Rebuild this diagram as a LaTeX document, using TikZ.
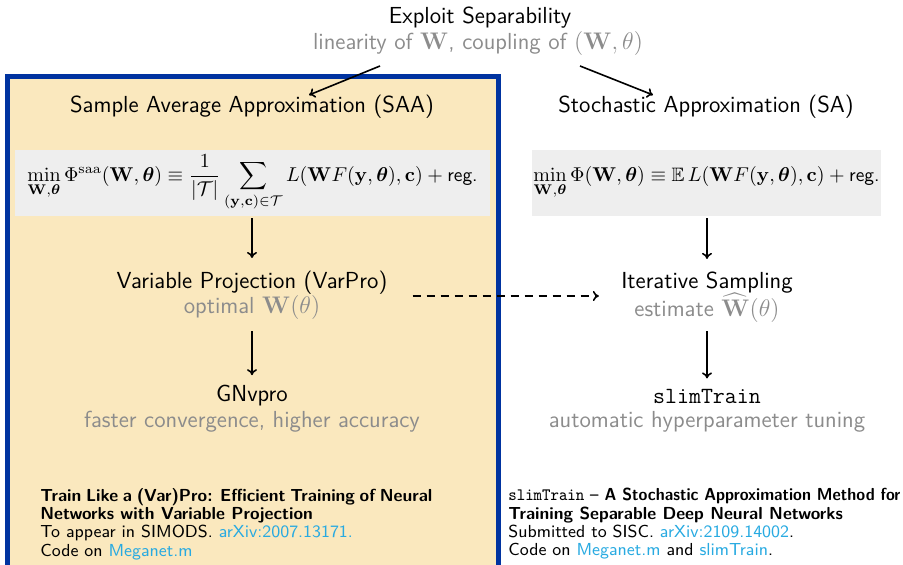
\documentclass[tikz,border=0pt]{standalone}
\usepackage{amsmath,amssymb,bm,graphicx}
\usetikzlibrary{arrows.meta,calc}
\definecolor{boxblue}{RGB}{0,51,160}
\definecolor{wheatbg}{RGB}{250,232,190}
\definecolor{eqgray}{RGB}{238,238,238}
\definecolor{subgray}{RGB}{140,140,140}
\definecolor{linkcyan}{RGB}{40,170,225}
\newcommand{\lnk}[1]{\textcolor{linkcyan}{#1}}
\tikzset{
  head/.style={font=\fontsize{11.6}{13}\selectfont\sffamily, inner sep=0pt},
  sub/.style={font=\fontsize{11.6}{13}\selectfont\sffamily, text=subgray, inner sep=0pt},
  eqbox/.style={fill=eqgray, inner sep=0pt, minimum height=33pt, font=\fontsize{9.7}{11}\selectfont},
  ref/.style={font=\fontsize{8.7}{9.1}\selectfont\sffamily, inner sep=0pt, text width=196pt, align=justify, anchor=north west},
  flow/.style={-{To[length=3pt,width=5pt]}, line width=0.8pt},
}
\begin{document}
\begin{tikzpicture}[x=0.5pt,y=-0.5pt]
\useasboundingbox (0,0) rectangle (903,565);
\clip (0,0) rectangle (903,565);
% highlighted column (sample average approximation)
\fill[wheatbg] (7.5,76.5) rectangle (498.5,600);
\draw[boxblue, line width=2.5pt] (7.5,600) -- (7.5,76.5) -- (498.5,76.5) -- (498.5,600);

% top
\node[head] (top) at (480,18) {Exploit Separability};
\node[sub] (topsub) at (478,44) {linearity of $\mathbf{W}$, coupling of $(\mathbf{W},\theta)$};
\coordinate (tl) at (380,66);
\coordinate (tr) at (580,66);

% left column
\node[head] (saa) at (252,107) {Sample Average Approximation (SAA)};
\node[eqbox, minimum width=237.5pt] (saaeq) at (252.5,183) {$\displaystyle\min_{\mathbf{W},\bm{\theta}}\Phi^{\mathrm{saa}}(\mathbf{W},\bm{\theta})\equiv\frac{1}{|\mathcal{T}|}\sum_{(\mathbf{y},\mathbf{c})\in\mathcal{T}}L(\mathbf{W}F(\mathbf{y},\bm{\theta}),\mathbf{c})+\text{\sffamily reg.}$};
\node[head] (vp) at (252,283) {Variable Projection (VarPro)};
\node[sub] (vpsub) at (252,308) {optimal $\mathbf{W}(\theta)$};
\node[head] (gn) at (252,396) {GNvpro};
\node[sub] (gnsub) at (252,422) {faster convergence, higher accuracy};

% right column
\node[head] (sa) at (706,107) {Stochastic Approximation (SA)};
\node[eqbox, minimum width=174.5pt] (saeq) at (706.5,183) {$\displaystyle\min_{\mathbf{W},\bm{\theta}}\Phi(\mathbf{W},\bm{\theta})\equiv\mathbb{E}\,L(\mathbf{W}F(\mathbf{y},\bm{\theta}),\mathbf{c})+\text{\sffamily reg.}$};
\node[head] (is) at (707,283) {Iterative Sampling};
\node[sub] (issub) at (707,311) {estimate $\smash{\widehat{\mathbf{W}}}(\theta)$};
\node[head] (st) at (707,396) {\ttfamily slimTrain};
\node[sub] (stsub) at (707,422) {automatic hyperparameter tuning};

% connectors
\draw[flow] (tl) -- (saa.north -| 309,90);
\draw[flow] (tr) -- (sa.north -| 653,90);
\draw[flow, shorten <=1pt] (saaeq.south -| vp.north) -- ($(vp.north)+(0,-13)$);
\draw[flow, shorten <=1pt] (saeq.south -| is.north) -- ($(is.north)+(0,-13)$);
\draw[flow] ($(vpsub.south)+(0,11)$) -- ($(gn.north)+(0,-10)$);
\draw[flow] ($(issub.south)+(0,8)$) -- ($(st.north)+(0,-10)$);
\draw[flow, dashed, dash pattern=on 4pt off 3pt] ($(vp.east |- 0,296)+(25,0)$) -- ($(is.west |- 0,296)+(-22,0)$);

% references
\node[ref] (refl) at (40,488) {\textbf{Train Like a (Var)Pro: Efficient Training of Neural\linebreak Networks with Variable Projection}\par
To appear in SIMODS. \lnk{arXiv:2007.13171.}\par
Code on \lnk{Meganet.m}};
\node[ref] (refr) at (508,488) {\resizebox{196pt}{\height}{\texttt{slimTrain} \textbf{-- A Stochastic Approximation Method for}}\par
\textbf{Training Separable Deep Neural Networks}\par
Submitted to SISC. \lnk{arXiv:2109.14002}.\par
Code on \lnk{Meganet.m} and \lnk{slimTrain}.};
\end{tikzpicture}
\end{document}
